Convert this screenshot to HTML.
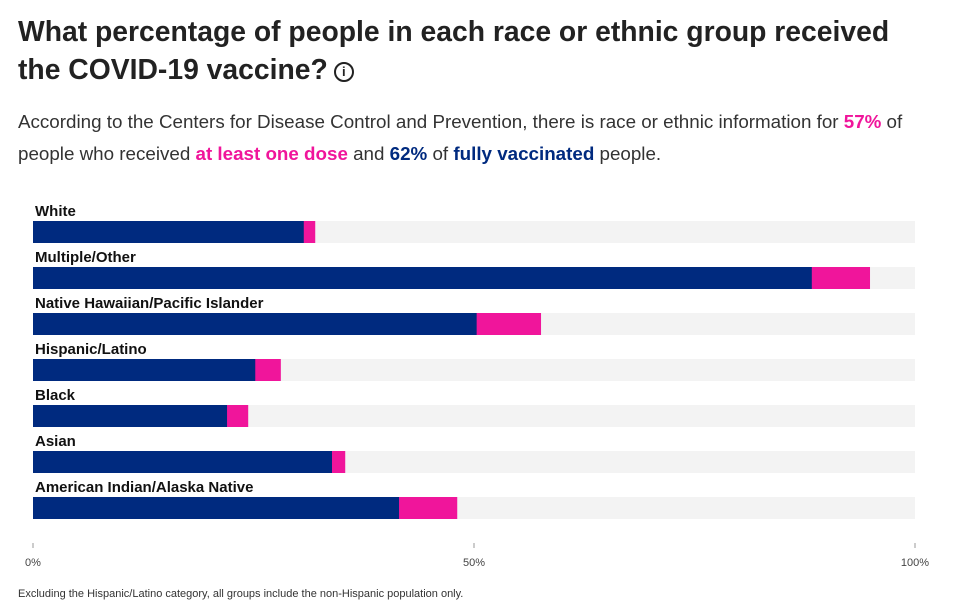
<!DOCTYPE html>
<html><head><meta charset="utf-8">
<style>
body{margin:0;width:958px;height:613px;background:#fff;font-family:"Liberation Sans",sans-serif;color:#222;overflow:hidden;position:relative}
h1{position:absolute;left:18px;top:12px;margin:0;font-size:28.3px;line-height:38px;font-weight:bold;width:910px;color:#222}
.sub{position:absolute;left:18px;top:106px;font-size:18.8px;line-height:32px;color:#333;width:885px}
.pk{color:#f0159b;font-weight:bold}.bl{color:#002a7f;font-weight:bold}
.info{display:inline-block;width:16px;height:16px;border:2px solid #222;border-radius:50%;font-size:13px;line-height:16px;text-align:center;vertical-align:3px;margin-left:6px;font-weight:bold}
.foot{position:absolute;left:18px;top:588px;font-size:11px;color:#333}
</style></head><body>
<h1>What percentage of people in each race or ethnic group received the COVID-19 vaccine?<span class="info">i</span></h1>
<div class="sub">According to the Centers for Disease Control and Prevention, there is race or ethnic information for <span class="pk">57%</span> of people who received <span class="pk">at least one dose</span> and <span class="bl">62%</span> of <span class="bl">fully vaccinated</span> people.</div>
<svg id="chart" width="958" height="613" style="position:absolute;left:0;top:0"></svg>
<div class="foot">Excluding the Hispanic/Latino category, all groups include the non-Hispanic population only.</div>
<script>
const categories=["White","Multiple/Other","Native Hawaiian/Pacific Islander","Hispanic/Latino","Black","Asian","American Indian/Alaska Native"];
const fullyVaccinated=[30.7,88.3,50.3,25.2,22.0,33.9,41.5];
const atLeastOneDose=[32.0,94.9,57.6,28.1,24.4,35.4,48.1];
const tickValues=[0,50,100];
const tickLabels=["0%","50%","100%"];
const svg=document.getElementById('chart');
const NS="http://www.w3.org/2000/svg";
const x0=33,x1=915;
const xs=v=>x0+(x1-x0)*v/100;
const ys=i=>221+i*46;
function mk(t,a){const e=document.createElementNS(NS,t);for(const k in a)e.setAttribute(k,a[k]);svg.appendChild(e);return e;}
categories.forEach((c,i)=>{
  const y=ys(i);
  const t=mk('text',{x:35,y:y-5,'font-size':15,'font-weight':'bold',fill:'#111','font-family':'Liberation Sans, sans-serif'});
  t.textContent=c;
  
  
  const bg=mk('rect',{x:x0,y:y,width:x1-x0,height:22,fill:'#f3f3f3'});
  
  
  const p=mk('rect',{x:x0,y:y,width:xs(atLeastOneDose[i])-x0,height:22,fill:'#f0159b'});
  
  
  const b=mk('rect',{x:x0,y:y,width:xs(fullyVaccinated[i])-x0,height:22,fill:'#002a7f'});
  
  
});
tickValues.forEach((v,i)=>{
  const l=mk('line',{x1:xs(v),x2:xs(v),y1:543,y2:548,stroke:'#999'});
  
  
  const t=mk('text',{x:xs(v),y:566,'font-size':11,'text-anchor':'middle',fill:'#444','font-family':'Liberation Sans, sans-serif'});
  t.textContent=tickLabels[i];
  
  
});
</script>
</body></html>
